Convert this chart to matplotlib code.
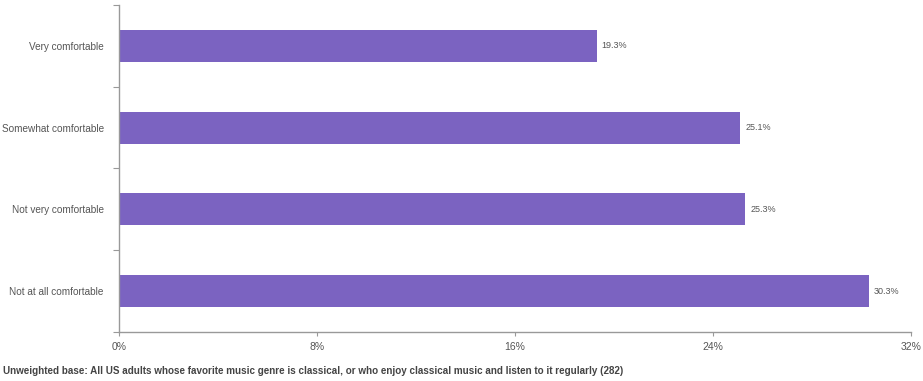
import matplotlib
matplotlib.use("Agg")
import matplotlib.pyplot as plt
from matplotlib.ticker import FixedLocator, NullFormatter

categories = ["Very comfortable", "Somewhat comfortable", "Not very comfortable", "Not at all comfortable"]
values = [19.3, 25.1, 25.3, 30.3]
xticks = [0, 8, 16, 24, 32]
xtick_labels = ["0%", "8%", "16%", "24%", "32%"]
footnote = "Unweighted base: All US adults whose favorite music genre is classical, or who enjoy classical music and listen to it regularly (282)"

plt.rcParams['font.family'] = ['Liberation Sans', 'DejaVu Sans']

fig = plt.figure(figsize=(9.23, 3.81), dpi=100)
ax = fig.add_axes([119/923, 49/381, 792/923, 327/381])

n = len(categories)
ypos = list(range(n))
ax.barh(ypos, values, height=0.39, color="#7B63C1", zorder=2)
ax.set_ylim(n - 0.5, -0.5)
ax.set_xlim(0, 32)

for y, v in zip(ypos, values):
    ax.text(v + 0.2, y, f"{v}%", va="center", ha="left", fontsize=6.5, color="#555555")

ax.set_yticks(ypos)
ax.set_yticklabels(categories, fontsize=7.2, color="#555555")
ax.tick_params(axis="y", which="major", length=0, pad=11)
ax.yaxis.set_minor_locator(FixedLocator([i - 0.5 for i in range(n + 1)]))
ax.yaxis.set_minor_formatter(NullFormatter())
ax.tick_params(axis="y", which="minor", length=4, color="#999999", width=0.8)

ax.set_xticks(xticks)
ax.set_xticklabels(xtick_labels, fontsize=7.5, color="#555555")
ax.tick_params(axis="x", length=3, color="#999999", width=0.8, pad=4)

for s in ["top", "right"]:
    ax.spines[s].set_visible(False)
for s in ["left", "bottom"]:
    ax.spines[s].set_color("#999999")
    ax.spines[s].set_linewidth(1.0)

fig.text(3/923, 1 - 371/381, footnote, fontsize=7.1, fontweight="bold", color="#444444", va="center", ha="left")

fig.savefig("out.png", dpi=100)
